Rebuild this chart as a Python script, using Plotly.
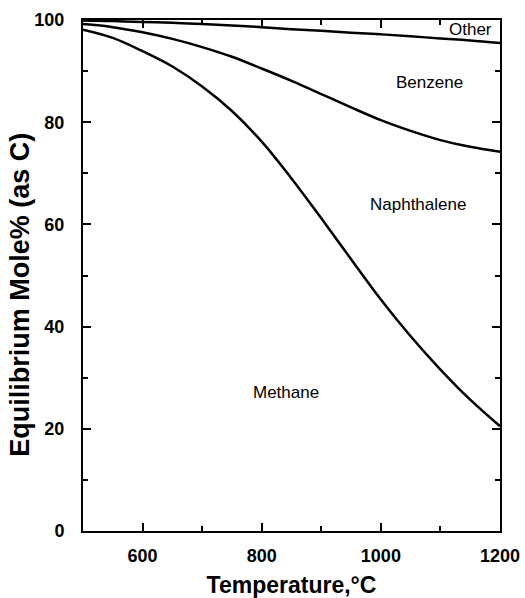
import plotly.graph_objects as go

temps = [500, 550, 600, 650, 700, 750, 800, 850, 900, 950, 1000, 1050, 1100, 1150, 1200]
methane_top = [98.1, 96.5, 93.9, 90.9, 87.0, 82.2, 76.2, 69.0, 61.2, 53.2, 45.3, 38.1, 31.6, 25.7, 20.5]
naphthalene_top = [99.2, 98.6, 97.6, 96.3, 94.7, 92.8, 90.5, 88.1, 85.5, 82.9, 80.4, 78.3, 76.5, 75.2, 74.2]
benzene_top = [99.9, 99.8, 99.6, 99.45, 99.2, 98.9, 98.6, 98.2, 97.9, 97.5, 97.2, 96.8, 96.4, 96.0, 95.5]

labels = ["Other", "Benzene", "Naphthalene", "Methane"]
label_x = [1151, 1081, 1062, 841]
label_y = [98.1, 87.7, 63.9, 27.2]

FONT = "Liberation Sans, Arial"

fig = go.Figure()
for ys in [methane_top, naphthalene_top, benzene_top]:
    fig.add_trace(go.Scatter(x=temps, y=ys, mode="lines",
                             line=dict(color="black", width=2.5, shape="spline"),
                             showlegend=False, hoverinfo="skip"))

for t, x, y in zip(labels, label_x, label_y):
    fig.add_annotation(x=x, y=y, text=t, showarrow=False,
                       font=dict(family=FONT, size=17, color="black"))

# y-axis title (placed slightly below the plot centre, as in the reference)
fig.add_annotation(xref="paper", yref="paper", x=-0.15, y=0.463,
                   text="Equilibrium Mole% (as C)", textangle=-90, showarrow=False,
                   xanchor="center", yanchor="middle",
                   font=dict(family=FONT, size=27, color="black", weight="bold"))

axis_common = dict(showgrid=False, zeroline=False, showline=True, linecolor="black",
                   linewidth=2, mirror="allticks", ticks="inside", tickcolor="black",
                   tickwidth=1.5, ticklen=8, automargin=False,
                   tickfont=dict(family=FONT, size=18, color="black", weight="bold"),
                   minor=dict(ticks="inside", ticklen=5, tickwidth=1.5, tickcolor="black"))

fig.update_xaxes(range=[500, 1200], tickvals=[600, 800, 1000, 1200],
                 minor_tickvals=[700, 900, 1100],
                 title=dict(text="Temperature,°C", standoff=20,
                            font=dict(family=FONT, size=23, color="black", weight="bold")),
                 ticklabelstandoff=7,
                 **axis_common)
fig.update_yaxes(range=[0, 100], tickvals=[0, 20, 40, 60, 80, 100],
                 minor_tickvals=[10, 30, 50, 70, 90],
                 ticklabelstandoff=13,
                 **axis_common)

fig.update_layout(width=525, height=598, margin=dict(l=83, r=25, t=20, b=67),
                  plot_bgcolor="white", paper_bgcolor="white")

fig.write_html("out.html")
